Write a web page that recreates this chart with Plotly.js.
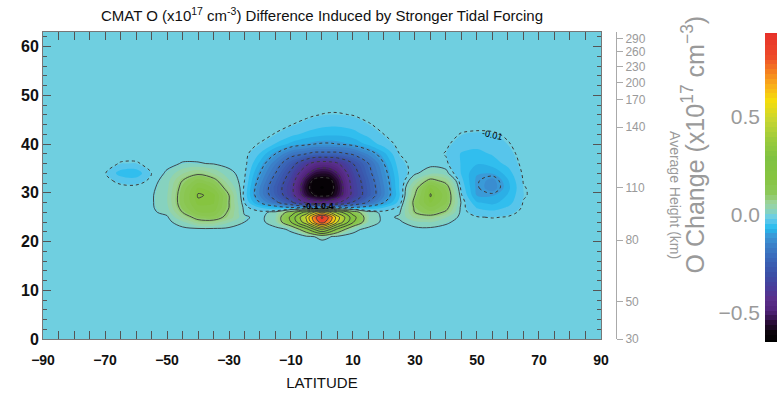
<!DOCTYPE html>
<html><head><meta charset="utf-8">
<script src="https://cdn.plot.ly/plotly-3.0.1.min.js"></script>
<style>html,body{margin:0;padding:0;background:#fff}#chart{width:777px;height:394px}</style>
</head><body><div id="chart"></div>
<script>
// ---- data ----
const latitude = [-90,-80,-70,-65,-60,-55,-50,-45,-40,-35,-30,-25,-20,-15,-10,-5,-2.5,0,2.5,5,10,15,20,25,30,35,40,45,50,55,60,65,70,80,90];
const level = [0,16,20,21,22.5,24,25,26,27,28,29.5,31,32.5,34,36,38,40,42,44,46,48,52,63];
// O change (x10^17 cm^-3), one row per level
const oChange = [
 /*0*/   [0,0,0,0,0, 0,0,0,0,0, 0,0,0,0,0, 0,0,0,0,0, 0,0,0,0,0, 0,0,0,0,0, 0,0,0,0,0],
 /*16*/  [0,0,0,0,0, 0,0,0,0,0, 0,0,0,0,0, 0,0,0,0,0, 0,0,0,0,0, 0,0,0,0,0, 0,0,0,0,0],
 /*20*/  [0,0,0,0,0, 0,0,0,0,0, 0,0,0,0,0, 0,0,0,0,0, 0,0,0,0,0, 0,0,0,0,0, 0,0,0,0,0],
 /*21*/  [0,0,0,0,0, 0,0,0,0,0, 0,0,0,0,0, 0,0.01,0.035,0.012,0, 0,0,0,0,0, 0,0,0,0,0, 0,0,0,0,0],
 /*22.5*/[0,0,0,0,0, 0,0,0,0,0, 0,0,0,0,0.015, 0.17,0.3,0.42,0.31,0.18, 0.02,0,0,0,0, 0,0,0,0,0, 0,0,0,0,0],
 /*24*/  [0,0,0,0,0, 0,0,0.03,0.08,0.08, 0.04,0.01,0,0.03,0.2, 0.48,0.7,0.86,0.71,0.5, 0.21,0.035,0,0.005,0.03, 0.04,0.015,0,0,0, 0,0,0,0,0],
 /*25*/  [0.004,0.003,0,0,0, 0,0.005,0.07,0.12,0.13, 0.08,0.015,0,0.035,0.22, 0.52,0.76,0.92,0.77,0.54, 0.24,0.04,0,0.015,0.07, 0.08,0.04,0,-0.008,-0.012, -0.008,0,0,0,0],
 /*26*/  [0.008,0.006,0.003,0.002,0.003, 0.004,0.02,0.1,0.16,0.16, 0.09,0.005,0,0.02,0.14, 0.34,0.5,0.6,0.5,0.36, 0.15,0.025,0,0.006,0.1, 0.13,0.09,0,-0.025,-0.03, -0.02,-0.003,0,0,0],
 /*27*/  [0.008,0.007,0.004,0.003,0.004, 0.006,0.03,0.12,0.18,0.18, 0.1,0,-0.04,-0.07,-0.1, -0.13,-0.14,-0.14,-0.14,-0.13, -0.1,-0.07,-0.04,-0.005,0.11, 0.16,0.12,0,-0.04,-0.05, -0.035,-0.006,0,0,0],
 /*28*/  [0.007,0.006,0.003,0.002,0.004, 0.006,0.035,0.13,0.195,0.19, 0.1,-0.01,-0.1,-0.18,-0.28, -0.42,-0.45,-0.46,-0.45,-0.42, -0.29,-0.19,-0.1,-0.025,0.12, 0.19,0.14,0.005,-0.06,-0.07, -0.05,-0.008,0,0,0],
 /*29.5*/[0.004,0.003,0,0,0.001, 0.006,0.035,0.13,0.203,0.195, 0.1,-0.02,-0.14,-0.24,-0.36, -0.55,-0.6,-0.62,-0.61,-0.55, -0.37,-0.25,-0.14,-0.04,0.1, 0.203,0.15,-0.008,-0.09,-0.09, -0.06,-0.013,0,0,0],
 /*31*/  [0,0,0,0,0, 0.003,0.03,0.12,0.19,0.16, 0.07,-0.015,-0.14,-0.25,-0.37, -0.58,-0.63,-0.64,-0.63,-0.57, -0.37,-0.25,-0.14,-0.035,0.08, 0.19,0.13,-0.02,-0.095,-0.13, -0.07,-0.012,0,0,0],
 /*32.5*/[0,0,0,-0.02,-0.025, -0.003,0.025,0.1,0.15,0.12, 0.04,-0.01,-0.12,-0.23,-0.35, -0.55,-0.62,-0.63,-0.62,-0.55, -0.36,-0.24,-0.13,-0.035,0.04, 0.12,0.08,-0.03,-0.095,-0.125, -0.065,-0.008,0,0,0],
 /*34*/  [0,0,-0.008,-0.05,-0.055, -0.01,0.015,0.06,0.09,0.06, 0.02,-0.005,-0.1,-0.2,-0.32, -0.48,-0.54,-0.56,-0.55,-0.5, -0.34,-0.22,-0.12,-0.03,0.005, 0.03,0.02,-0.04,-0.085,-0.085, -0.05,-0.005,0,0,0],
 /*36*/  [0,0,0,-0.012,-0.013, -0.002,0.002,0.012,0.012,0.008, 0,0,-0.07,-0.16,-0.26, -0.38,-0.43,-0.45,-0.44,-0.41, -0.3,-0.2,-0.1,-0.02,0, 0,-0.005,-0.04,-0.06,-0.05, -0.03,-0.002,0,0,0],
 /*38*/  [0,0,0,0,0, 0,0,0,0,0, 0,0,-0.04,-0.1,-0.17, -0.2,-0.22,-0.22,-0.22,-0.22, -0.19,-0.13,-0.07,-0.01,0, 0,-0.012,-0.04,-0.045,-0.035, -0.02,0,0,0,0],
 /*40*/  [0,0,0,0,0, 0,0,0,0,0, 0,0,-0.012,-0.04,-0.07, -0.09,-0.1,-0.105,-0.105,-0.1, -0.085,-0.055,-0.025,-0.002,0, 0,-0.005,-0.025,-0.03,-0.025, -0.012,0,0,0,0],
 /*42*/  [0,0,0,0,0, 0,0,0,0,0, 0,0,0,-0.012,-0.03, -0.045,-0.05,-0.055,-0.057,-0.057, -0.048,-0.03,-0.01,0,0, 0,0,-0.012,-0.016,-0.014, -0.006,0,0,0,0],
 /*44*/  [0,0,0,0,0, 0,0,0,0,0, 0,0,0,0,-0.009, -0.02,-0.026,-0.03,-0.032,-0.032, -0.027,-0.013,0,0,0, 0,0,0,0,0, 0,0,0,0,0],
 /*46*/  [0,0,0,0,0, 0,0,0,0,0, 0,0,0,0,0, -0.004,-0.008,-0.011,-0.013,-0.013, -0.009,0,0,0,0, 0,0,0,0,0, 0,0,0,0,0],
 /*48*/  [0,0,0,0,0, 0,0,0,0,0, 0,0,0,0,0, 0,0,0,0,0, 0,0,0,0,0, 0,0,0,0,0, 0,0,0,0,0],
 /*52*/  [0,0,0,0,0, 0,0,0,0,0, 0,0,0,0,0, 0,0,0,0,0, 0,0,0,0,0, 0,0,0,0,0, 0,0,0,0,0],
 /*63*/  [0,0,0,0,0, 0,0,0,0,0, 0,0,0,0,0, 0,0,0,0,0, 0,0,0,0,0, 0,0,0,0,0, 0,0,0,0,0]
];
const heightLevels = [0, 7.6, 20.3, 31, 43.5, 49.1, 52.6, 55.9, 58.9, 61.7];
const heightLabels = ['30','50','80','110','140','170','200','230','260','290'];
const colorbarTicks = [-0.5, 0, 0.5];
const colorbarTickText = ['\u22120.5','0.0','0.5'];
const csValues = [-0.65,-0.6,-0.55,-0.49,-0.43,-0.37,-0.3,-0.22,-0.15,-0.1,-0.06,-0.02,0,0.03,0.07,0.12,0.2,0.3,0.4,0.5,0.6,0.68,0.75,0.83,0.95];
const csColors = ['#000000','#0c040c','#2a0c38','#4f2278','#5a2e8a','#483c9a','#3b4fa6','#3a66b8','#3b80c8','#3a9ad8','#22bbef','#5ec6ea','#6fcfe0','#8ad2b8','#9dd39a','#8cc85a','#86c440','#80c242','#9ccb3b','#c8d630','#f5dc0c','#f9ae1a','#f47f20','#ee4a2a','#e6302a'];

const vmin = csValues[0], vmax = csValues[csValues.length-1];
const colorscale = csValues.map((v,i)=>[(v-vmin)/(vmax-vmin), csColors[i]]);
const lineCol = '#3a3a3a';

const traces = [
 {type:'contour', x:latitude, y:level, z:oChange, autocontour:false,
  contours:{start:-0.6375, end:0.9375, size:0.025, coloring:'fill', showlines:false},
  line:{smoothing:1, width:0}, colorscale:colorscale, showscale:true, hoverinfo:'skip',
  colorbar:{x:0.9837, xanchor:'left', thickness:12, thicknessmode:'pixels', len:309, lenmode:'pixels',
            y:0.4935, yanchor:'middle', ypad:0, xpad:0, outlinewidth:0, showticklabels:false, ticks:''}},
 {type:'contour', x:latitude, y:level, z:oChange, autocontour:false, showscale:false, hoverinfo:'skip',
  contours:{start:0.1, end:0.91, size:0.1, coloring:'none'}, line:{color:lineCol, width:0.9, smoothing:1}},
 {type:'contour', x:latitude, y:level, z:oChange, autocontour:false, showscale:false, hoverinfo:'skip',
  contours:{start:-0.6, end:-0.09, size:0.1, coloring:'none'}, line:{color:lineCol, width:1, dash:'dot', smoothing:1}},
 {type:'contour', x:latitude, y:level, z:oChange, showscale:false, hoverinfo:'skip',
  contours:{type:'constraint', operation:'=', value:0.01}, line:{color:lineCol, width:0.9, smoothing:1}},
 {type:'contour', x:latitude, y:level, z:oChange, showscale:false, hoverinfo:'skip',
  contours:{type:'constraint', operation:'=', value:-0.01}, line:{color:lineCol, width:1, dash:'dot', smoothing:1}},
 {type:'scatter', x:[], y:[], yaxis:'y2', showlegend:false, hoverinfo:'skip'},
 {type:'scatter', x:[], y:[], yaxis:'y3', showlegend:false, hoverinfo:'skip'}
];

const tickFontX = {family:'Liberation Sans, Arial, sans-serif', size:14, color:'#111', weight:'bold'};
const tickFontY = {family:'Liberation Sans, Arial, sans-serif', size:16, color:'#111', weight:'bold'};
const grey = '#9a9a9a';

const layout = {
 width:777, height:394, margin:{l:43, r:0, t:32, b:55},
 paper_bgcolor:'#ffffff', plot_bgcolor:'#6fcfe0', showlegend:false,
 title:{text:'CMAT O (x10<sup>17</sup> cm<sup>-3</sup>) Difference Induced by Stronger Tidal Forcing',
        x:0.3801, xref:'paper', xanchor:'center', y:0.959, yref:'container', yanchor:'middle',
        font:{family:'Liberation Sans Narrow, Liberation Sans, Arial, sans-serif', size:15, color:'#111'}},
 xaxis:{domain:[0,0.7602], range:[-90,90], tick0:-90, dtick:20, ticks:'inside', ticklen:8, tickcolor:'#555',
        minor:{dtick:5, ticks:'inside', ticklen:4, tickcolor:'#555'},
        showline:true, linecolor:'#777', linewidth:1, mirror:'allticks', showgrid:false, zeroline:false,
        tickfont:tickFontX, ticklabelstandoff:8,
        title:{text:'LATITUDE', standoff:10, font:{family:'Liberation Sans Narrow, Liberation Sans, Arial, sans-serif', size:15, color:'#111'}}},
 yaxis:{range:[0,63], tick0:0, dtick:10, ticks:'inside', ticklen:8, tickcolor:'#555',
        minor:{dtick:2, ticks:'inside', ticklen:4, tickcolor:'#555'},
        showline:true, linecolor:'#777', linewidth:1, mirror:'allticks', showgrid:false, zeroline:false,
        tickfont:tickFontY},
 yaxis2:{overlaying:'y', anchor:'free', position:0.7807, side:'right', range:[0,63],
        tickmode:'array', tickvals:heightLevels, ticktext:heightLabels, ticks:'outside', ticklen:6, tickcolor:'#aaa',
        showline:true, linecolor:'#aaa', linewidth:1, showgrid:false, zeroline:false,
        tickfont:{family:'Liberation Sans, Arial, sans-serif', size:12, color:grey}},
 yaxis3:{overlaying:'y', anchor:'free', position:0.9768, side:'left', range:[-0.633,0.934],
        tickmode:'array', tickvals:colorbarTicks, ticktext:colorbarTickText, ticks:'',
        showline:false, showgrid:false, zeroline:false,
        tickfont:{family:'Liberation Sans, Arial, sans-serif', size:21, color:grey}},
 annotations:[
  {text:'Average Height (km)', xref:'paper', yref:'paper', x:0.861, y:0.469, xanchor:'center', yanchor:'middle',
   textangle:90, showarrow:false, font:{family:'Liberation Sans, Arial, sans-serif', size:14, color:grey}},
  {text:'O Change (x10<sup>17</sup> cm<sup>\u22123</sup>)', xref:'paper', yref:'paper', x:0.886, y:0.635, xanchor:'center', yanchor:'middle',
   textangle:-90, showarrow:false, font:{family:'Liberation Sans, Arial, sans-serif', size:25, color:grey}},
  {text:'-0.01', xref:'x', yref:'y', x:55, y:41.9, textangle:12, showarrow:false,
   font:{family:'Liberation Sans, Arial, sans-serif', size:9, color:'#000'}},
  {text:'-0.1 0.4', xref:'x', yref:'y', x:-1, y:27.2, showarrow:false,
   font:{family:'Liberation Sans Narrow, Liberation Sans, Arial, sans-serif', size:9, color:'#000', weight:'bold'}}
 ]
};

Plotly.newPlot('chart', traces, layout, {staticPlot:true, displayModeBar:false});
</script></body></html>
